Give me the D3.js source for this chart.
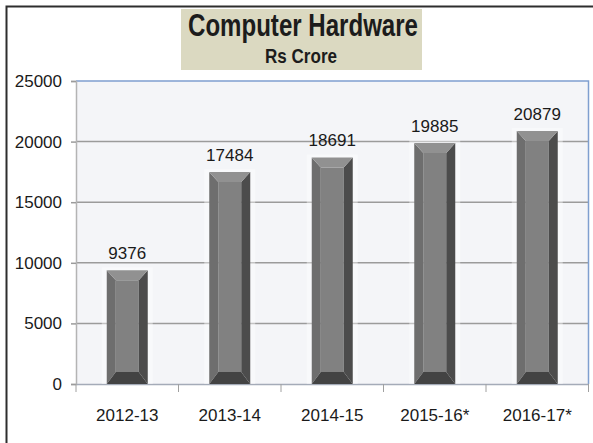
<!DOCTYPE html>
<html>
<head>
<meta charset="utf-8">
<script src="https://cdn.jsdelivr.net/npm/d3@7"></script>
<style>
  html, body { margin: 0; padding: 0; background: #fff; }
  svg { display: block; }
</style>
</head>
<body>
<svg id="chart" width="593" height="443"></svg>
<script>
const years = ['2012-13', '2013-14', '2014-15', '2015-16*', '2016-17*']
const values = [9376, 17484, 18691, 19885, 20879]
const yTicks = [0, 5000, 10000, 15000, 20000, 25000]

const svg = d3.select('#chart')
const plot = { left: 76, right: 588.5, top: 81, bottom: 384 }

const x = d3.scaleBand()
  .domain(years)
  .range([plot.left, plot.right])
  .paddingInner(0.6)
  .paddingOuter(0.3)

const y = d3.scaleLinear()
  .domain([0, 25000])
  .range([plot.bottom, plot.top])

const labelFont = 'Liberation Sans, Arial, sans-serif'

// outer frame (left + top only)
svg.append('path')
  .attr('d', `M6.5,443 L6.5,6.5 L593,6.5`)
  .attr('fill', 'none')
  .attr('stroke', '#2e2e2e')
  .attr('stroke-width', 2)

// plot background
svg.append('rect')
  .attr('x', plot.left)
  .attr('y', plot.top)
  .attr('width', plot.right - plot.left)
  .attr('height', plot.bottom - plot.top)
  .attr('fill', '#f4f5f8')

// gridlines
svg.append('g')
  .selectAll('line')
  .data(yTicks.filter((d) => d > 0 && d < 25000))
  .join('line')
  .attr('x1', plot.left)
  .attr('x2', plot.right)
  .attr('y1', (d) => y(d))
  .attr('y2', (d) => y(d))
  .attr('stroke', '#9b9b9b')
  .attr('stroke-width', 1.5)

// top + right plot border
svg.append('path')
  .attr('d', `M${plot.left},${plot.top} L${plot.right},${plot.top} L${plot.right},${plot.bottom}`)
  .attr('fill', 'none')
  .attr('stroke', '#7f9fcf')
  .attr('stroke-width', 1.5)

// y axis
const yAxis = svg.append('g')
  .attr('transform', `translate(${plot.left},0)`)
  .call(d3.axisLeft(y).tickValues(yTicks).tickSize(5).tickPadding(9).tickFormat(d3.format('d')))
yAxis.select('.domain').attr('stroke', '#b4b4b4').attr('stroke-width', 1.5)
yAxis.selectAll('.tick line').attr('stroke', '#9b9b9b').attr('stroke-width', 1.5)
yAxis.selectAll('.tick text')
  .attr('font-family', labelFont)
  .attr('font-size', 17)
  .attr('fill', '#1a1a1a')

// x axis
const xAxis = svg.append('g')
  .attr('transform', `translate(0,${plot.bottom})`)
  .call(d3.axisBottom(x).tickSize(0).tickPadding(0))
xAxis.select('.domain').attr('stroke', '#a4abb8').attr('stroke-width', 1.5)
xAxis.selectAll('.tick text')
  .attr('y', 37)
  .attr('dy', 0)
  .attr('font-family', labelFont)
  .attr('font-size', 17)
  .attr('fill', '#1a1a1a')

// category separator ticks
const step = x.step()
const bounds = [plot.left].concat(years.map((d) => x(d) + x.bandwidth() + x.paddingInner() * step / 2))
svg.append('g')
  .selectAll('line')
  .data(bounds)
  .join('line')
  .attr('x1', (d) => d)
  .attr('x2', (d) => d)
  .attr('y1', plot.bottom)
  .attr('y2', plot.bottom + 8)
  .attr('stroke', '#a0a0a0')
  .attr('stroke-width', 1)

// bevelled bars
const bw = x.bandwidth()
const bv = 9
const bt = 10
const bb = 12
const bars = svg.append('g')
  .selectAll('g')
  .data(values.map((v, i) => ({ year: years[i], value: v })))
  .join('g')

bars.append('rect')
  .attr('x', (d) => x(d.year) - 5)
  .attr('y', (d) => y(d.value) - 3)
  .attr('width', bw + 10)
  .attr('height', (d) => plot.bottom - y(d.value) + 3)
  .attr('fill', '#ffffff')
  .attr('opacity', 0.4)

const facet = (d, which) => {
  const x0 = x(d.year)
  const x1 = x0 + bw
  const y0 = y(d.value)
  const y1 = plot.bottom
  const pts = {
    left: [[x0, y0], [x0 + bv, y0 + bt], [x0 + bv, y1 - bb], [x0, y1]],
    right: [[x1, y0], [x1 - bv, y0 + bt], [x1 - bv, y1 - bb], [x1, y1]],
    top: [[x0, y0], [x1, y0], [x1 - bv, y0 + bt], [x0 + bv, y0 + bt]],
    bottom: [[x0, y1], [x1, y1], [x1 - bv, y1 - bb], [x0 + bv, y1 - bb]],
    face: [[x0 + bv, y0 + bt], [x1 - bv, y0 + bt], [x1 - bv, y1 - bb], [x0 + bv, y1 - bb]]
  }[which]
  return 'M' + pts.map((p) => p.join(',')).join('L') + 'Z'
}

const facets = [
  ['face', '#818181'],
  ['left', '#6e6e6e'],
  ['right', '#4c4c4c'],
  ['top', '#919191'],
  ['bottom', '#434343']
]
facets.forEach(([name, color]) => {
  bars.append('path')
    .attr('d', (d) => facet(d, name))
    .attr('fill', color)
})

// value labels
bars.append('text')
  .attr('x', (d) => x(d.year) + bw / 2)
  .attr('y', (d) => y(d.value) - 11)
  .attr('text-anchor', 'middle')
  .attr('font-family', labelFont)
  .attr('font-size', 17)
  .attr('fill', '#1a1a1a')
  .text((d) => d.value)

// title box
svg.append('rect')
  .attr('x', 181)
  .attr('y', 9)
  .attr('width', 241)
  .attr('height', 61)
  .attr('fill', '#dbd9c1')

svg.append('text')
  .attr('x', 303)
  .attr('y', 36)
  .attr('text-anchor', 'middle')
  .attr('font-family', labelFont)
  .attr('font-weight', 'bold')
  .attr('font-size', 32)
  .attr('textLength', 230)
  .attr('lengthAdjust', 'spacingAndGlyphs')
  .attr('fill', '#1c1c1c')
  .text('Computer Hardware')

svg.append('text')
  .attr('x', 301)
  .attr('y', 63)
  .attr('text-anchor', 'middle')
  .attr('font-family', labelFont)
  .attr('font-weight', 'bold')
  .attr('font-size', 21)
  .attr('textLength', 72)
  .attr('lengthAdjust', 'spacingAndGlyphs')
  .attr('fill', '#1c1c1c')
  .text('Rs Crore')
</script>
</body>
</html>
